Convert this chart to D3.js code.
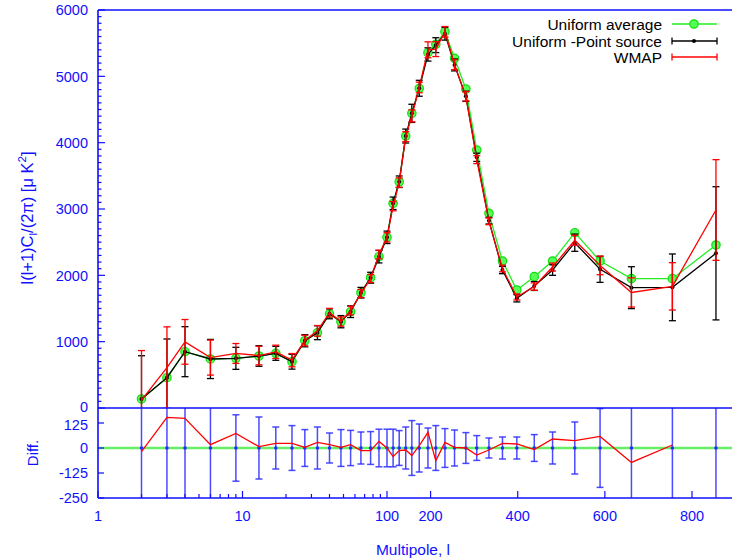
<!DOCTYPE html>
<html><head><meta charset="utf-8">
<script src="https://cdn.jsdelivr.net/npm/d3@7"></script>
<style>
html,body{margin:0;padding:0;background:#fff;}
svg{display:block;font-family:"Liberation Sans",Arial,sans-serif;}
</style></head>
<body><svg id="c" width="732" height="560"></svg>
<script>
// ---- data ----
const ell      = [2,3,4,6,9,13,17,22,27,33,40,48,56,66,77,88,100,114,128,143,157,174,194,212,233,255,281,306,334,365,398,438,480,531,589,661,755,855];
const uniAvg   = [136,457,849,739,749,784,824,698,1014,1135,1420,1301,1452,1738,1964,2281,2573,3086,3411,4100,4442,4820,5356,5482,5673,5272,4809,3889,2935,2216,1779,1980,2216,2643,2216,1950,1950,2457];
const uniPS    = [136,457,849,739,749,784,824,698,1014,1135,1420,1301,1452,1738,1964,2281,2573,3086,3411,4100,4442,4820,5330,5470,5643,5172,4699,3779,2824,2080,1654,1839,2080,2492,2091,1814,1819,2332];
const uniPSErr = [652,583,377,295,166,155,105,112,92,105,75,92,88,80,82,94,94,94,87,105,137,120,100,112,97,90,77,62,50,55,55,67,80,130,197,316,503,1004];
const wmap     = [118,610,997,760,822,791,847,721,1017,1163,1437,1304,1469,1725,1951,2314,2573,3043,3398,4090,4404,4832,5400,5410,5671,5175,4699,3744,2814,2103,1674,1831,2125,2529,2149,1742,1834,2985];
const wmapErr  = [748,613,337,264,150,140,100,100,80,80,65,70,65,60,60,65,70,70,70,75,90,80,120,112,80,75,70,60,50,50,45,55,60,75,140,220,357,759];
const diffVal  = [-18,153,148,17,73,7,23,23,3,28,17,3,17,-13,-13,33,0,-43,-13,-10,-38,12,78,-63,28,3,0,-35,-10,23,20,-8,45,37,58,-72,15,null];
const yTopTicks  = [0,1000,2000,3000,4000,5000,6000];
const yDiffTicks = [125,0,-125,-250];
const xMajorTicks = [1,10,100,200,400,600,800];
const xMinorTicks = [2,3,4,5,6,7,8,9,20,30,40,50,60,70,80,90];
const legendNames = ["Uniform average","Uniform -Point source","WMAP"];

// ---- layout ----
const L = 98, R = 732, T = 10, MID = 408, B = 498;
const AX = "#1010ff";
const svg = d3.select("#c");

const xLog = d3.scaleLog().domain([1,100]).range([L,387]);
const xLin = d3.scaleLinear().domain([100,800]).range([387,692]);
const X = l => l <= 100 ? xLog(l) : xLin(l);
const yTop = d3.scaleLinear().domain([0,6000]).range([MID,T]);
const yDiff = d3.scaleLinear().domain([-250,200]).range([B,MID]);

const defs = svg.append("defs");
defs.append("clipPath").attr("id","clipTop").append("rect").attr("x",L).attr("y",T).attr("width",R-L).attr("height",MID-T);
defs.append("clipPath").attr("id","clipDiff").append("rect").attr("x",L).attr("y",MID).attr("width",R-L).attr("height",B-MID);

const data = ell.map((l,i)=>({l, g:uniAvg[i], k:uniPS[i], ke:uniPSErr[i], r:wmap[i], re:wmapErr[i], d:diffVal[i]}));

// ---- top panel ----
const topG = svg.append("g").attr("clip-path","url(#clipTop)");
function errBars(g, key, errKey, color, yS, cap, width){
  const gg = g.append("g").attr("stroke",color).attr("stroke-width",width).attr("fill","none");
  data.forEach(p=>{
    if (p[key]==null) return;
    const x = X(p.l), y1 = yS(p[key]-p[errKey]), y2 = yS(p[key]+p[errKey]);
    gg.append("line").attr("x1",x).attr("x2",x).attr("y1",y1).attr("y2",y2);
    gg.append("line").attr("x1",x-cap).attr("x2",x+cap).attr("y1",y1).attr("y2",y1);
    gg.append("line").attr("x1",x-cap).attr("x2",x+cap).attr("y1",y2).attr("y2",y2);
  });
}
const lineOf = (key, yS) => d3.line().defined(p=>p[key]!=null).x(p=>X(p.l)).y(p=>yS(p[key]));

// green: uniform average
topG.append("path").datum(data).attr("d",lineOf("g",yTop)).attr("fill","none").attr("stroke","#22ee22").attr("stroke-width",1.3);
topG.selectAll("circle.g").data(data).enter().append("circle").attr("cx",p=>X(p.l)).attr("cy",p=>yTop(p.g)).attr("r",4.2)
  .attr("fill","#55ff55").attr("stroke","#11dd11").attr("stroke-width",1.2);
// black
errBars(topG,"k","ke","#000",yTop,3.5,1.3);
topG.append("path").datum(data).attr("d",lineOf("k",yTop)).attr("fill","none").attr("stroke","#000").attr("stroke-width",1.3);
topG.selectAll("circle.k").data(data).enter().append("circle").attr("cx",p=>X(p.l)).attr("cy",p=>yTop(p.k)).attr("r",2).attr("fill","#000");
// red
errBars(topG,"r","re","#ff0000",yTop,3.5,1.3);
topG.append("path").datum(data).attr("d",lineOf("r",yTop)).attr("fill","none").attr("stroke","#ff0000").attr("stroke-width",1.3);

// ---- diff panel ----
const dp = svg.append("g").attr("clip-path","url(#clipDiff)");
dp.append("line").attr("x1",L).attr("x2",R).attr("y1",yDiff(0)).attr("y2",yDiff(0)).attr("stroke","#66ee66").attr("stroke-width",2.6);
const dpData = data.map(p=>({l:p.l, ze:p.ke}));
(function(){
  const gg = dp.append("g").attr("stroke","#2a2aff").attr("stroke-opacity",0.85).attr("stroke-width",1.5);
  dpData.forEach(p=>{
    const x = X(p.l), y1 = yDiff(-p.ze), y2 = yDiff(p.ze);
    gg.append("line").attr("x1",x).attr("x2",x).attr("y1",y1).attr("y2",y2);
    gg.append("line").attr("x1",x-3.5).attr("x2",x+3.5).attr("y1",y1).attr("y2",y1);
    gg.append("line").attr("x1",x-3.5).attr("x2",x+3.5).attr("y1",y2).attr("y2",y2);
  });
  dp.selectAll("circle.b").data(dpData).enter().append("circle").attr("cx",p=>X(p.l)).attr("cy",yDiff(0)).attr("r",1.8).attr("fill","#2a2aff");
})();
dp.append("path").datum(data).attr("d",lineOf("d",yDiff)).attr("fill","none").attr("stroke","#ff0000").attr("stroke-width",1.3);

// ---- frame ----
const fr = svg.append("g").attr("stroke",AX).attr("stroke-width",1.6);
fr.append("line").attr("x1",L).attr("x2",R).attr("y1",T).attr("y2",T);
fr.append("line").attr("x1",L).attr("x2",R).attr("y1",MID).attr("y2",MID);
fr.append("line").attr("x1",L).attr("x2",R).attr("y1",B).attr("y2",B);
fr.append("line").attr("x1",L).attr("x2",L).attr("y1",T).attr("y2",B);

// ticks
const tk = svg.append("g").attr("stroke",AX).attr("stroke-width",1.2);
d3.range(0,6001,100).forEach(v=>{
  const major = v%1000===0;
  tk.append("line").attr("x1",L).attr("x2",L+(major?7:3.5)).attr("y1",yTop(v)).attr("y2",yTop(v));
});
yDiffTicks.forEach(v=>tk.append("line").attr("x1",L).attr("x2",L+6).attr("y1",yDiff(v)).attr("y2",yDiff(v)));
xMajorTicks.forEach(v=>tk.append("line").attr("x1",X(v)).attr("x2",X(v)).attr("y1",B).attr("y2",B-7));
xMinorTicks.forEach(v=>tk.append("line").attr("x1",X(v)).attr("x2",X(v)).attr("y1",B).attr("y2",B-4));

const lbl = svg.append("g").attr("fill",AX).attr("font-size",14.5);
yTopTicks.forEach(v=>lbl.append("text").attr("x",88).attr("y",yTop(v) - (v===0?1.5:0)).attr("dy","0.36em").attr("text-anchor","end").text(v));
yDiffTicks.forEach(v=>lbl.append("text").attr("x",88).attr("y",yDiff(v) + (v===125?1.5:0)).attr("dy","0.36em").attr("text-anchor","end").text(v));
xMajorTicks.forEach(v=>lbl.append("text").attr("x",X(v)).attr("y",521).attr("text-anchor","middle").text(v));

// axis titles
const yt = lbl.append("text").attr("transform","translate(33,218) rotate(-90)").attr("text-anchor","middle").attr("font-size",16.5);
yt.append("tspan").text("l(l+1)C");
yt.append("tspan").attr("font-size",11.5).attr("dy",3.5).text("l");
yt.append("tspan").attr("dy",-3.5).text("/(2\u03c0) [\u03bc K");
yt.append("tspan").attr("font-size",11.5).attr("dy",-7).text("2");
yt.append("tspan").attr("dy",7).text("]");
lbl.append("text").attr("transform","translate(38,453) rotate(-90)").attr("text-anchor","middle").attr("font-size",15).text("Diff.");
lbl.append("text").attr("x",413).attr("y",555).attr("text-anchor","middle").attr("font-size",15.5).text("Multipole, l");

// legend
const lg = svg.append("g").attr("font-size",15.5);
const lgY = [24,41,57], lx1 = 672, lx2 = 717, lxc = 694;
lg.selectAll("text").data(legendNames).enter().append("text").attr("x",662).attr("y",(d,i)=>lgY[i]).attr("dy","0.36em").attr("text-anchor","end").attr("fill","#000").text(d=>d);
lg.append("line").attr("x1",lx1).attr("x2",lx2).attr("y1",lgY[0]).attr("y2",lgY[0]).attr("stroke","#22ee22").attr("stroke-width",1.4);
lg.append("circle").attr("cx",lxc).attr("cy",lgY[0]).attr("r",4.2).attr("fill","#55ff55").attr("stroke","#11dd11").attr("stroke-width",1.2);
[["#000",lgY[1]],["#ff0000",lgY[2]]].forEach(([c,y])=>{
  lg.append("line").attr("x1",lx1).attr("x2",lx2).attr("y1",y).attr("y2",y).attr("stroke",c).attr("stroke-width",1.3);
  lg.append("line").attr("x1",lx1).attr("x2",lx1).attr("y1",y-3.5).attr("y2",y+3.5).attr("stroke",c).attr("stroke-width",1.3);
  lg.append("line").attr("x1",lx2).attr("x2",lx2).attr("y1",y-3.5).attr("y2",y+3.5).attr("stroke",c).attr("stroke-width",1.3);
});
lg.append("circle").attr("cx",lxc).attr("cy",lgY[1]).attr("r",2).attr("fill","#000");
</script></body></html>
